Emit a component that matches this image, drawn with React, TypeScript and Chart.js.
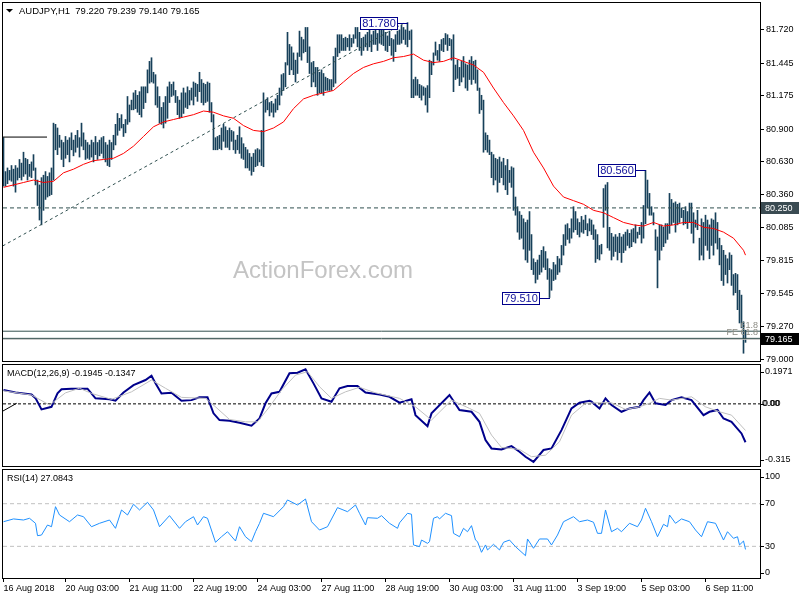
import React, { useEffect, useRef } from "react";
import { Chart, registerables } from "chart.js";

Chart.register(...registerables);

const FONT = '"Liberation Sans", Arial, sans-serif';

// ---------------- data ----------------
const symbolTitle = "AUDJPY,H1  79.220 79.239 79.140 79.165";
const macdTitle = "MACD(12,26,9) -0.1945 -0.1347";
const rsiTitle = "RSI(14) 27.0843";

// hourly bars (index 0 = 16 Aug 2018 20:00)
const barHigh = [
  80.83, 80.55, 80.58, 80.56, 80.60, 80.57, 80.60, 80.58, 80.65, 80.62,
  80.71, 80.66, 80.65, 80.61, 80.63, 80.69, 80.58, 80.48, 80.44, 80.50,
  80.52, 80.55, 80.51, 80.54, 80.58, 80.95, 80.94, 80.91, 80.85, 80.81,
  80.79, 80.84, 80.81, 80.83, 80.87, 80.81, 80.85, 80.89, 80.83, 80.95,
  80.87, 80.81, 80.79, 80.77, 80.81, 80.79, 80.84, 80.79, 80.81, 80.83,
  80.84, 80.79, 80.77, 80.81, 80.79, 80.85, 80.94, 81.03, 80.99, 81.02,
  80.94, 80.98, 81.17, 81.10, 81.14, 81.20, 81.22, 81.18, 81.21, 81.25,
  81.25, 81.25, 81.39, 81.46, 81.49, 81.37, 81.35, 81.25, 81.17, 81.08,
  81.12, 81.17, 81.25, 81.29, 81.27, 81.29, 81.22, 81.17, 81.14, 81.20,
  81.24, 81.20, 81.25, 81.22, 81.24, 81.29, 81.28, 81.27, 81.37, 81.31,
  81.28, 81.27, 81.29, 81.28, 81.12, 81.02, 80.83, 80.84, 80.85, 80.91,
  80.94, 80.92, 80.89, 80.91, 80.89, 80.88, 80.81, 80.85, 80.92, 80.83,
  80.78, 80.75, 80.73, 80.70, 80.67, 80.70, 80.73, 80.74, 80.73, 80.89,
  81.20, 81.14, 81.16, 81.12, 81.13, 81.11, 81.15, 81.18, 81.24, 81.35,
  81.36, 81.45, 81.70, 81.60, 81.58, 81.53, 81.47, 81.53, 81.71, 81.66,
  81.64, 81.74, 81.74, 81.58, 81.45, 81.46, 81.41, 81.41, 81.37, 81.39,
  81.36, 81.33, 81.32, 81.31, 81.31, 81.50, 81.57, 81.68, 81.68, 81.68,
  81.65, 81.66, 81.65, 81.68, 81.65, 81.68, 81.74, 81.74, 81.70, 81.65,
  81.66, 81.68, 81.70, 81.72, 81.68, 81.71, 81.72, 81.69, 81.73, 81.74,
  81.74, 81.70, 81.67, 81.71, 81.65, 81.64, 81.68, 81.71, 81.72, 81.76,
  81.74, 81.72, 81.78, 81.71, 81.72, 81.31, 81.33, 81.31, 81.27, 81.26,
  81.25, 81.24, 81.26, 81.47, 81.46, 81.53, 81.62, 81.55, 81.60, 81.64,
  81.65, 81.69, 81.68, 81.65, 81.64, 81.68, 81.43, 81.47, 81.41, 81.46,
  81.50, 81.44, 81.43, 81.47, 81.50, 81.46, 81.47, 81.39, 81.24, 81.18,
  81.14, 80.87, 80.85, 80.81, 80.71, 80.69, 80.66, 80.65, 80.67, 80.63,
  80.66, 80.60, 80.65, 80.56, 80.59, 80.58, 80.34, 80.26, 80.22, 80.19,
  80.16, 80.13, 80.15, 80.22, 80.03, 79.83, 79.80, 79.82, 79.86, 79.90,
  79.93, 79.89, 79.83, 79.75, 79.74, 79.80, 79.78, 79.85, 79.83, 79.94,
  80.03, 80.11, 80.12, 80.08, 80.16, 80.26, 80.22, 80.16, 80.13, 80.18,
  80.15, 80.19, 80.12, 80.16, 80.15, 80.11, 80.07, 80.03, 79.94, 79.95,
  80.41, 80.44, 80.46, 80.09, 80.04, 80.01, 80.03, 80.01, 80.04, 80.01,
  80.03, 80.05, 80.07, 80.04, 80.07, 80.08, 80.11, 80.05, 80.09, 80.13,
  80.27, 80.56, 80.48, 80.37, 80.26, 80.21, 80.07, 80.01, 80.11, 80.11,
  80.09, 80.12, 80.12, 80.37, 80.32, 80.29, 80.30, 80.28, 80.29, 80.25,
  80.23, 80.26, 80.22, 80.29, 80.29, 80.21, 80.15, 80.23, 80.00, 80.16,
  80.13, 80.19, 80.15, 80.11, 80.16, 80.15, 80.21, 80.13, 80.00, 79.94,
  79.90, 79.86, 79.83, 79.88, 79.86, 79.70, 79.71, 79.70, 79.57, 79.53,
  79.31, 79.24,
];
const barLow = [
  80.43, 80.43, 80.45, 80.48, 80.47, 80.43, 80.38, 80.48, 80.50, 80.48,
  80.51, 80.53, 80.48, 80.51, 80.50, 80.56, 80.44, 80.27, 80.15, 80.11,
  80.23, 80.32, 80.34, 80.35, 80.36, 80.48, 80.73, 80.69, 80.75, 80.65,
  80.59, 80.66, 80.69, 80.63, 80.73, 80.68, 80.71, 80.75, 80.67, 80.76,
  80.73, 80.65, 80.66, 80.65, 80.67, 80.63, 80.69, 80.65, 80.68, 80.70,
  80.66, 80.63, 80.60, 80.59, 80.65, 80.73, 80.77, 80.85, 80.89, 80.91,
  80.84, 80.87, 80.94, 80.96, 81.06, 81.06, 81.07, 81.04, 81.02, 81.00,
  81.07, 81.12, 81.20, 81.28, 81.29, 81.28, 81.10, 81.08, 80.95, 80.94,
  80.91, 80.95, 80.99, 81.12, 81.17, 81.18, 81.12, 81.02, 80.99, 81.00,
  81.03, 81.08, 81.07, 81.10, 81.14, 81.10, 81.17, 81.13, 81.21, 81.12,
  81.10, 81.12, 81.13, 81.04, 80.96, 80.73, 80.73, 80.73, 80.74, 80.73,
  80.80, 80.75, 80.75, 80.73, 80.80, 80.73, 80.70, 80.73, 80.70, 80.66,
  80.65, 80.58, 80.58, 80.56, 80.52, 80.55, 80.59, 80.60, 80.63, 80.60,
  80.59, 81.04, 81.06, 81.01, 81.04, 81.00, 81.04, 81.06, 81.10, 81.18,
  81.22, 81.25, 81.43, 81.35, 81.39, 81.35, 81.29, 81.36, 81.50, 81.47,
  81.53, 81.54, 81.45, 81.36, 81.25, 81.29, 81.25, 81.18, 81.20, 81.20,
  81.18, 81.22, 81.22, 81.22, 81.22, 81.25, 81.28, 81.50, 81.53, 81.55,
  81.55, 81.55, 81.58, 81.55, 81.58, 81.61, 81.65, 81.58, 81.55, 81.51,
  81.55, 81.58, 81.55, 81.58, 81.54, 81.60, 81.60, 81.55, 81.61, 81.60,
  81.59, 81.55, 81.54, 81.59, 81.51, 81.46, 81.54, 81.60, 81.60, 81.61,
  81.64, 81.60, 81.58, 81.64, 81.16, 81.16, 81.18, 81.18, 81.16, 81.14,
  81.18, 81.10, 81.04, 81.16, 81.35, 81.43, 81.51, 81.47, 81.46, 81.55,
  81.54, 81.60, 81.55, 81.59, 81.47, 81.21, 81.31, 81.32, 81.26, 81.29,
  81.33, 81.24, 81.22, 81.31, 81.27, 81.31, 81.28, 81.22, 81.03, 81.06,
  80.71, 80.73, 80.71, 80.69, 80.50, 80.44, 80.48, 80.38, 80.46, 80.50,
  80.44, 80.40, 80.36, 80.46, 80.42, 80.23, 80.19, 80.05, 79.99, 80.00,
  79.91, 79.82, 79.80, 79.90, 79.74, 79.70, 79.63, 79.66, 79.70, 79.72,
  79.76, 79.74, 79.66, 79.51, 79.57, 79.65, 79.66, 79.70, 79.72, 79.78,
  79.86, 79.94, 79.99, 79.96, 80.00, 80.05, 80.07, 80.03, 80.01, 80.05,
  80.04, 80.07, 80.02, 80.06, 80.03, 79.99, 79.80, 79.83, 79.82, 79.87,
  80.09, 80.23, 79.92, 79.90, 79.82, 79.85, 79.89, 79.82, 79.88, 79.80,
  79.88, 79.90, 79.94, 79.92, 79.93, 79.97, 79.96, 80.00, 80.03, 79.96,
  80.00, 80.12, 80.25, 80.19, 80.19, 80.11, 79.90, 79.59, 79.82, 79.90,
  79.93, 79.96, 79.99, 80.04, 80.11, 80.13, 80.05, 80.11, 80.13, 80.17,
  80.11, 80.12, 80.08, 80.13, 80.04, 79.96, 80.09, 80.07, 79.82, 79.86,
  79.82, 79.94, 79.90, 79.83, 79.94, 79.86, 79.96, 79.91, 79.78, 79.65,
  79.61, 79.70, 79.63, 79.74, 79.61, 79.53, 79.55, 79.41, 79.30, 79.26,
  79.05, 79.14,
];

// moving average (red), read every 5 bars
const maBars = [
  0, 5, 10, 15, 20, 25, 30, 35, 40, 45, 50, 55, 60, 65, 70, 75, 80, 85, 90, 95,
  100, 105, 110, 115, 120, 125, 130, 135, 140, 145, 150, 155, 160, 165, 170, 175,
  180, 185, 190, 195, 200, 205, 210, 215, 220, 225, 230, 235, 240, 245, 250, 255,
  260, 265, 270, 275, 280, 285, 290, 295, 300, 305, 310, 315, 320, 325, 330, 335,
  340, 345, 350, 355, 360, 365, 370, 371,
];
const maValues = [
  80.42, 80.44, 80.46, 80.48, 80.46, 80.47, 80.54, 80.57, 80.61, 80.64, 80.65, 80.66,
  80.70, 80.76, 80.84, 80.92, 80.96, 80.98, 81.00, 81.02, 81.05, 81.04, 81.01, 80.99,
  80.93, 80.89, 80.88, 80.91, 80.96, 81.07, 81.15, 81.18, 81.20, 81.22, 81.29, 81.36,
  81.41, 81.44, 81.46, 81.49, 81.50, 81.52, 81.47, 81.45, 81.46, 81.49, 81.46, 81.43,
  81.37, 81.24, 81.12, 81.01, 80.89, 80.71, 80.58, 80.43, 80.34, 80.31, 80.28, 80.23,
  80.21, 80.17, 80.13, 80.11, 80.10, 80.13, 80.10, 80.11, 80.13, 80.13, 80.09, 80.08,
  80.05, 80.00, 79.90, 79.86,
];

// drawn objects on the price panel (bar index, price)
const trendBars = [-0.4, 200.75];
const trendPrices = [79.936, 81.78];
const resistLevel = 80.25;
const fib618Level = 79.232;
const fe618Level = 79.173;
const bidLevel = 79.165;
const oldLineBars = [-0.25, 21.75];
const oldLinePrices = [80.835, 80.835];

const annoBars = [202, 321, 273];
const annoPrices = [81.78, 80.56, 79.51];
const annoTexts = ["81.780", "80.560", "79.510"];

const priceTicks = [81.72, 81.445, 81.175, 80.9, 80.63, 80.36, 80.085, 79.815, 79.545, 79.27, 79.0];

// MACD
const macdBars = [
  0, 6, 14, 16, 19, 24, 27, 29, 34, 42, 46, 53, 56, 60, 65, 71, 74, 76, 79, 84,
  89, 94, 98, 102, 105, 108, 113, 118, 124, 128, 131, 134, 138, 143, 147, 151, 155, 159, 164, 168,
  172, 177, 181, 188, 193, 198, 204, 206, 212, 214, 223, 228, 234, 238, 241, 244, 249, 254, 258, 261,
  265, 270, 274, 279, 284, 288, 293, 294, 298, 301, 304, 309, 313, 318, 320, 323, 326, 331, 334, 339,
  344, 350, 353, 357, 360, 364, 369, 371,
];
const macdValues = [
  0.07, 0.058, 0.048, 0.029, -0.028, -0.015, 0.053, 0.074, 0.077, 0.077,
  0.028, 0.023, 0.016, 0.058, 0.095, 0.121, 0.143, 0.104, 0.053, 0.056,
  0.016, 0.019, 0.033, 0.033, -0.048, -0.082, -0.086, -0.096, -0.111, -0.074,
  0.003, 0.053, 0.061, 0.155, 0.158, 0.175, 0.104, 0.028, 0.011, 0.079,
  0.09, 0.09, 0.058, 0.048, 0.036, 0.006, 0.023, -0.057, -0.113, -0.048,
  0.045, -0.031, -0.04, -0.091, -0.184, -0.226, -0.231, -0.214, -0.243, -0.268,
  -0.294, -0.234, -0.226, -0.133, -0.023, 0.006, 0.016, 0.011, -0.023, 0.028,
  -0.006, -0.04, -0.023, -0.015, 0.019, 0.058, 0.003, -0.006, 0.019, 0.033,
  0.019, -0.057, -0.04, -0.031, -0.074, -0.091, -0.15, -0.1945,
];
const signalBars = [
  0, 14, 23, 31, 38, 44, 54, 64, 74, 81, 89, 101, 106, 113, 121, 127, 133, 139, 146, 152,
  158, 164, 171, 178, 186, 198, 206, 214, 224, 233, 238, 244, 249, 258, 264, 271, 278, 284, 291, 298,
  304, 311, 318, 323, 328, 334, 344, 351, 358, 364, 371,
];
const signalValues = [
  0.066, 0.045, -0.006, 0.056, 0.079, 0.053, 0.023, 0.061, 0.121, 0.079,
  0.033, 0.028, -0.015, -0.079, -0.091, -0.091, -0.015, 0.07, 0.146, 0.163,
  0.087, 0.028, 0.061, 0.084, 0.056, 0.028, -0.015, -0.082, 0.019, -0.023,
  -0.048, -0.158, -0.221, -0.231, -0.268, -0.26, -0.192, -0.057, 0.003, 0.006,
  0.006, -0.028, -0.015, 0.003, 0.028, 0.019, 0.036, -0.015, -0.04, -0.057,
  -0.1347,
];
const macdStubBars = [-0.4, 6.6];
const macdStubValues = [-0.037, 0.003];
const macdMax = 0.1971;
const macdMin = -0.315;

// RSI
const rsiBars = [
  0, 5, 10, 13, 16, 17, 19, 22, 24, 26, 28, 33, 37, 40, 44, 48, 53, 56, 59, 62,
  65, 68, 72, 75, 78, 83, 88, 91, 95, 97, 100, 102, 106, 109, 112, 116, 118, 121, 124, 126,
  128, 130, 135, 140, 142, 147, 151, 154, 158, 162, 167, 172, 176, 178, 181, 182, 187, 189, 193, 197,
  198, 202, 204, 205, 208, 209, 212, 213, 215, 217, 218, 221, 224, 225, 228, 230, 232, 234, 236, 237,
  239, 241, 242, 245, 248, 250, 253, 256, 261, 262, 265, 268, 272, 274, 277, 280, 285, 288, 292, 295,
  297, 299, 301, 304, 307, 309, 313, 317, 319, 321, 324, 327, 330, 332, 333, 336, 339, 343, 346, 349,
  352, 356, 360, 362, 365, 367, 368, 370, 371,
];
const rsiValues = [
  53.1, 55.7, 54.7, 56.3, 51.6, 40.0, 40.6, 50.0, 48.4, 67.2, 59.4, 53.1, 59.4, 57.8, 48.4, 51.6, 54.7, 46.9, 64.1, 59.4,
  69.5, 64.1, 71.3, 64.1, 48.4, 58.8, 46.9, 53.1, 57.8, 50.0, 57.8, 56.3, 33.8, 39.0, 43.7, 35.0, 48.4, 39.0, 34.4, 43.7,
  51.6, 61.0, 57.8, 67.2, 73.5, 68.8, 74.4, 53.1, 45.3, 48.4, 66.3, 62.5, 68.8, 61.0, 50.0, 56.9, 56.3, 58.8, 51.6, 46.9,
  52.0, 61.0, 60.1, 31.3, 29.7, 35.9, 32.8, 34.4, 56.3, 57.8, 55.7, 61.0, 58.8, 42.2, 39.0, 46.9, 43.7, 49.4, 35.9, 34.4,
  24.4, 31.3, 26.6, 31.9, 26.6, 33.8, 35.9, 29.7, 21.2, 36.9, 28.2, 36.9, 36.9, 31.3, 40.6, 53.1, 57.8, 53.1, 54.7, 52.6,
  42.2, 42.2, 64.1, 43.7, 46.9, 43.7, 51.6, 48.4, 54.7, 65.7, 53.1, 39.0, 50.7, 48.4, 59.4, 51.6, 55.7, 53.1, 45.3, 39.0,
  53.1, 51.6, 35.9, 43.7, 37.5, 39.0, 31.3, 35.0, 27.08,
];
const rsiLevels = [70, 30];

// time axis
const dateTickBars = [0, 31, 63, 95, 127, 159, 191, 223, 255, 287, 319, 351];
const dateTickLabels = [
  "16 Aug 2018", "20 Aug 03:00", "21 Aug 11:00", "22 Aug 19:00", "24 Aug 03:00", "27 Aug 11:00",
  "28 Aug 19:00", "30 Aug 03:00", "31 Aug 11:00", "3 Sep 19:00", "5 Sep 03:00", "6 Sep 11:00",
];

// ---------------- helpers ----------------
const X_MIN = -0.25;
const X_MAX = 378.25;

const pts = (xs: number[], ys: number[]) => xs.map((x, k) => ({ x, y: ys[k] }));
const hline = (v: number) => [{ x: X_MIN, y: v }, { x: X_MAX, y: v }];

const lineDs = (data: any[], color: string, extra: any = {}) => ({
  type: "line",
  data,
  borderColor: color,
  borderWidth: 1,
  pointRadius: 0,
  tension: 0,
  fill: false,
  order: 2,
  ...extra,
});

const xHidden = { type: "linear", min: X_MIN, max: X_MAX, offset: false, display: false };

const yHidden = (min: number, max: number) => ({
  type: "linear",
  position: "right",
  min,
  max,
  ticks: { display: false },
  grid: { display: false },
  border: { display: false },
  afterFit: (s: any) => {
    s.width = 40;
    s.paddingTop = 0;
    s.paddingBottom = 0;
  },
});

const baseOpts = (padding: any) => ({
  responsive: false,
  animation: false,
  devicePixelRatio: 1,
  events: [],
  layout: { padding },
  plugins: { legend: { display: false }, tooltip: { enabled: false } },
});

function drawFrame(chart: any) {
  const { ctx, chartArea: a } = chart;
  ctx.save();
  ctx.strokeStyle = "#000";
  ctx.lineWidth = 1;
  ctx.strokeRect(a.left - 0.5, a.top - 0.5, a.right - a.left + 1, a.bottom - a.top + 1);
  ctx.restore();
}

function sideLabel(ctx: any, text: string, x: number, y: number) {
  ctx.fillText(text, x, y);
  ctx.beginPath();
  ctx.moveTo(760, Math.round(y) + 0.5);
  ctx.lineTo(764, Math.round(y) + 0.5);
  ctx.stroke();
}

// ---------------- charts ----------------
function makeMain(canvas: HTMLCanvasElement) {
  const bars = barHigh.map((h, i) => ({ x: i, y: [barLow[i], h] }));
  const decor = {
    id: "mainDecor",
    beforeDatasetsDraw(chart: any) {
      const { ctx } = chart;
      ctx.save();
      ctx.font = `24px ${FONT}`;
      ctx.fillStyle = "#c4c4c4";
      ctx.textAlign = "left";
      ctx.textBaseline = "middle";
      ctx.fillText("ActionForex.com", 233, 271);
      ctx.restore();
    },
    afterDraw(chart: any) {
      const { ctx, scales } = chart;
      const x = scales.x;
      const y = scales.y;
      ctx.save();
      // level captions
      ctx.font = `9px ${FONT}`;
      ctx.fillStyle = "#8c8c84";
      ctx.textAlign = "right";
      ctx.textBaseline = "middle";
      ctx.fillText("61.8", 758, y.getPixelForValue(fib618Level) - 5.5);
      ctx.fillText("FE 61.8", 758, y.getPixelForValue(fe618Level) - 5.5);

      // price annotations
      ctx.font = `11px ${FONT}`;
      ctx.textAlign = "center";
      annoBars.forEach((b, k) => {
        const px = x.getPixelForValue(b);
        const py = Math.round(y.getPixelForValue(annoPrices[k]));
        const w = Math.round(ctx.measureText(annoTexts[k]).width + 3);
        const right = Math.round(px - 11);
        const left = right - w;
        const top = py - 6;
        ctx.fillStyle = "#fff";
        ctx.fillRect(left, top, w, 12);
        ctx.strokeStyle = "#00008b";
        ctx.lineWidth = 1;
        ctx.strokeRect(left + 0.5, top + 0.5, w, 12);
        ctx.beginPath();
        ctx.moveTo(right + 0.5, py + 0.5);
        ctx.lineTo(Math.ceil(px), py + 0.5);
        ctx.stroke();
        ctx.fillStyle = "#10109a";
        ctx.fillText(annoTexts[k], left + w / 2 + 0.5, top + 7);
      });

      // boxed axis labels
      ctx.font = `9px ${FONT}`;
      ctx.textAlign = "left";
      const boxes: [number, string, string][] = [
        [resistLevel, "80.250", "#3a4b52"],
        [bidLevel, "79.165", "#000"],
      ];
      boxes.forEach(([v, t, bg]) => {
        const py = Math.round(y.getPixelForValue(v));
        ctx.fillStyle = bg;
        ctx.fillRect(761, py - 6, 38, 12);
        ctx.fillStyle = "#fff";
        ctx.fillText(t, 765, py + 0.5);
      });

      // title
      ctx.fillStyle = "#000";
      ctx.beginPath();
      ctx.moveTo(6, 9);
      ctx.lineTo(13, 9);
      ctx.lineTo(9.5, 12.5);
      ctx.closePath();
      ctx.fill();
      ctx.font = `9.5px ${FONT}`;
      ctx.textBaseline = "middle";
      ctx.fillText(symbolTitle, 19, 11);
      ctx.restore();
      drawFrame(chart);
    },
  };

  return new Chart(canvas, {
    type: "bar",
    data: {
      datasets: [
        {
          type: "bar",
          data: bars,
          backgroundColor: "#17405a",
          barThickness: 1,
          borderWidth: 0,
          order: 5,
        },
        lineDs(hline(resistLevel), "#2f4f4f", { borderDash: [4, 3], order: 4 }),
        lineDs(hline(fib618Level), "#34504f", { order: 4 }),
        lineDs(hline(fe618Level), "#34504f", { order: 4 }),
        lineDs(hline(bidLevel), "#c0c0c0", { order: 4 }),
        lineDs(pts(trendBars, trendPrices), "#2f4f4f", { borderDash: [3, 3], order: 3 }),
        lineDs(pts(oldLineBars, oldLinePrices), "#000", { order: 3 }),
        lineDs(pts(maBars, maValues), "#ff0000", { order: 1 }),
      ] as any,
    },
    options: {
      ...baseOpts({ left: 3, right: 0, top: 3, bottom: 2 }),
      scales: {
        x: xHidden,
        y: {
          type: "linear",
          position: "right",
          min: 78.986,
          max: 81.942,
          afterBuildTicks: (s: any) => {
            s.ticks = priceTicks.map((v) => ({ value: v }));
          },
          afterFit: (s: any) => {
            s.width = 40;
            s.paddingTop = 0;
            s.paddingBottom = 0;
          },
          grid: { display: true, drawOnChartArea: false, drawTicks: true, tickLength: 4, color: "#000" },
          border: { display: false },
          ticks: {
            autoSkip: false,
            padding: 2,
            color: "#000",
            font: { family: FONT, size: 9 },
            callback: (v: any) => Number(v).toFixed(3),
          },
        },
      },
    } as any,
    plugins: [decor],
  });
}

function makeMacd(canvas: HTMLCanvasElement) {
  const decor = {
    id: "macdDecor",
    afterDraw(chart: any) {
      const { ctx, chartArea: a, scales } = chart;
      const y = scales.y;
      ctx.save();
      ctx.font = `9px ${FONT}`;
      ctx.fillStyle = "#000";
      ctx.strokeStyle = "#000";
      ctx.lineWidth = 1;
      ctx.textAlign = "left";
      ctx.textBaseline = "middle";
      ctx.fillText(macdTitle, 7, 11);
      sideLabel(ctx, macdMax.toFixed(4), 765, a.top + 6.7);
      const zy = y.getPixelForValue(0);
      sideLabel(ctx, "0.00", 762, zy);
      ctx.fillText("0.00", 763, zy);
      sideLabel(ctx, macdMin.toFixed(3), 765, a.bottom - 6);
      ctx.restore();
      drawFrame(chart);
    },
  };
  return new Chart(canvas, {
    type: "line",
    data: {
      datasets: [
        lineDs(hline(0), "#000", { borderDash: [3, 2], order: 4 }),
        lineDs(pts(macdStubBars, macdStubValues), "#000", { order: 4 }),
        lineDs(pts(macdBars, macdValues), "#00008b", { borderWidth: 2, order: 2 }),
        lineDs(pts(signalBars, signalValues), "#c0c0c0", { order: 1 }),
      ] as any,
    },
    options: {
      ...baseOpts({ left: 3, right: 0, top: 2, bottom: 2 }),
      scales: { x: xHidden, y: yHidden(macdMin, macdMax) },
    } as any,
    plugins: [decor],
  });
}

function makeRsi(canvas: HTMLCanvasElement) {
  const decor = {
    id: "rsiDecor",
    afterDraw(chart: any) {
      const { ctx, chartArea: a, scales } = chart;
      const y = scales.y;
      ctx.save();
      ctx.font = `9px ${FONT}`;
      ctx.fillStyle = "#000";
      ctx.strokeStyle = "#000";
      ctx.lineWidth = 1;
      ctx.textAlign = "left";
      ctx.textBaseline = "middle";
      ctx.fillText(rsiTitle, 7, 10.5);
      sideLabel(ctx, "100", 765, a.top + 6.7);
      rsiLevels.forEach((v) => sideLabel(ctx, String(v), 765, y.getPixelForValue(v)));
      sideLabel(ctx, "0", 765, a.bottom - 5.3);
      ctx.restore();
      drawFrame(chart);
    },
  };
  return new Chart(canvas, {
    type: "line",
    data: {
      datasets: [
        ...rsiLevels.map((v) => lineDs(hline(v), "#c0c0c0", { borderDash: [4, 3], order: 4 })),
        lineDs(pts(rsiBars, rsiValues), "#1e90ff", { order: 1 }),
      ] as any,
    },
    options: {
      ...baseOpts({ left: 3, right: 0, top: 2, bottom: 0 }),
      scales: {
        x: {
          type: "linear",
          min: X_MIN,
          max: X_MAX,
          offset: false,
          position: "bottom",
          afterBuildTicks: (s: any) => {
            s.ticks = dateTickBars.map((v) => ({ value: v }));
          },
          afterFit: (s: any) => {
            s.height = 22;
            s.paddingLeft = 0;
            s.paddingRight = 0;
          },
          grid: { display: true, drawOnChartArea: false, drawTicks: true, tickLength: 4, color: "#000" },
          border: { display: false },
          ticks: {
            autoSkip: false,
            maxRotation: 0,
            minRotation: 0,
            align: "start",
            padding: 1,
            color: "#000",
            font: { family: FONT, size: 9 },
            callback: (_v: any, idx: number) => dateTickLabels[idx],
          },
        },
        y: yHidden(0.3, 101.6),
      },
    } as any,
    plugins: [decor],
  });
}

export default function App() {
  const mainRef = useRef<HTMLCanvasElement>(null);
  const macdRef = useRef<HTMLCanvasElement>(null);
  const rsiRef = useRef<HTMLCanvasElement>(null);

  useEffect(() => {
    const charts = [
      makeMain(mainRef.current as HTMLCanvasElement),
      makeMacd(macdRef.current as HTMLCanvasElement),
      makeRsi(rsiRef.current as HTMLCanvasElement),
    ];
    return () => charts.forEach((c) => c.destroy());
  }, []);

  return (
    <div style={{ position: "absolute", left: 0, top: 0, width: 800, height: 600, background: "#fff" }}>
      <canvas ref={mainRef} width={800} height={363} style={{ position: "absolute", left: 0, top: 0 }} />
      <canvas ref={macdRef} width={800} height={105} style={{ position: "absolute", left: 0, top: 363 }} />
      <canvas ref={rsiRef} width={800} height={132} style={{ position: "absolute", left: 0, top: 468 }} />
    </div>
  );
}
